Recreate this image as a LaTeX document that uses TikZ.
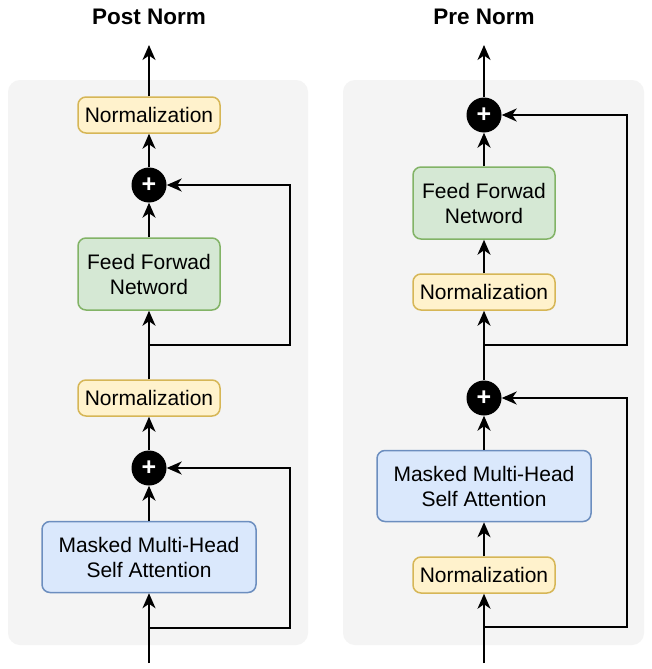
\documentclass[tikz,border=0pt]{standalone}
\usepackage{fontspec}
\setmainfont{Liberation Sans}
\usetikzlibrary{arrows.meta}
\definecolor{panelbg}{HTML}{F4F4F4}
\definecolor{yfill}{HTML}{FFF2CC}\definecolor{ydraw}{HTML}{D6B656}
\definecolor{gfill}{HTML}{D5E8D4}\definecolor{gdraw}{HTML}{82B366}
\definecolor{bfill}{HTML}{DAE8FC}\definecolor{bdraw}{HTML}{6C8EBF}
\tikzset{
  x=1pt,y=1pt,
  box/.style={rounded corners=8pt, line width=1.5pt, align=center, inner sep=0pt,
    font=\fontsize{21}{25}\selectfont, text=black},
  normbox/.style={box, fill=yfill, draw=ydraw, minimum width=142pt, minimum height=36pt},
  ffnbox/.style={box, fill=gfill, draw=gdraw, minimum width=142pt, minimum height=72pt},
  attnbox/.style={box, fill=bfill, draw=bdraw, minimum width=214pt, minimum height=71pt},
  plus/.style={circle, fill=black, minimum size=35pt, inner sep=0pt, text=white,
    font=\fontsize{25}{25}\selectfont\bfseries},
  arr/.style={line width=1.9pt, -{Stealth[length=15pt,width=13pt,inset=4.5pt]}},
  panel/.style={fill=panelbg, draw=none, rounded corners=12pt},
  title/.style={font=\fontsize{22.5}{26}\selectfont\bfseries, text=black}
}
\begin{document}
\begin{tikzpicture}
\useasboundingbox (0,0) rectangle (652,-669);
\fill[white] (0,0) rectangle (652,-669);
% panels
\path[panel] (8,-80) rectangle (308,-645);
\path[panel] (343,-80) rectangle (644,-645);
% titles
\node[title] (tpost) at (149,-17) {Post Norm};
\node[title] (tpre) at (484,-17) {Pre Norm};

% ---------- Post Norm ----------
\node[normbox] (ln2) at (149,-115) {Normalization};
\node[plus] (lp2) at (149,-185) {+};
\node[ffnbox] (lf) at (149,-274) {Feed Forwad\\Netword};
\node[normbox] (ln1) at (149,-398) {Normalization};
\node[plus] (lp1) at (149,-468) {+};
\node[attnbox] (la) at (149,-557) {Masked Multi-Head\hspace{6pt}\\Self Attention};
\coordinate (lin) at (149,-663);
\coordinate (lout) at (149,-45);
\coordinate (lb1) at (149,-628);
\coordinate (lb2) at (149,-345);
\coordinate (lr1) at (290,-628);
\coordinate (lr2) at (290,-345);

\draw[arr] (lin) -- (la);
\draw[arr] (la) -- (lp1);
\draw[arr] (lp1) -- (ln1);
\draw[arr] (ln1) -- (lf);
\draw[arr] (lf) -- (lp2);
\draw[arr] (lp2) -- (ln2);
\draw[arr] (ln2) -- (lout);
\draw[arr] (lb1) -- (lr1) |- (lp1);
\draw[arr] (lb2) -- (lr2) |- (lp2);

% ---------- Pre Norm ----------
\node[plus] (rp2) at (484,-115) {+};
\node[ffnbox] (rf) at (484,-203) {Feed Forwad\\Netword};
\node[normbox] (rn2) at (484,-292) {Normalization};
\node[plus] (rp1) at (484,-398) {+};
\node[attnbox] (ra) at (484,-486) {Masked Multi-Head\hspace{6pt}\\Self Attention};
\node[normbox] (rn1) at (484,-575) {Normalization};
\coordinate (rin) at (484,-663);
\coordinate (rout) at (484,-45);
\coordinate (rb1) at (484,-627);
\coordinate (rb2) at (484,-345);
\coordinate (rr1) at (627,-627);
\coordinate (rr2) at (627,-345);

\draw[arr] (rin) -- (rn1);
\draw[arr] (rn1) -- (ra);
\draw[arr] (ra) -- (rp1);
\draw[arr] (rp1) -- (rn2);
\draw[arr] (rn2) -- (rf);
\draw[arr] (rf) -- (rp2);
\draw[arr] (rp2) -- (rout);
\draw[arr] (rb1) -- (rr1) |- (rp1);
\draw[arr] (rb2) -- (rr2) |- (rp2);
\end{tikzpicture}
\end{document}
